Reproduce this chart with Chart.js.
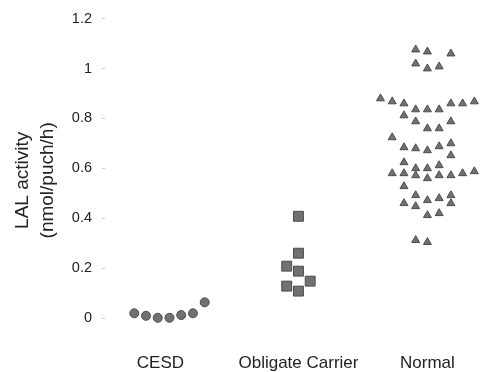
<!DOCTYPE html>
<html>
<head>
<meta charset="utf-8">
<script src="https://cdn.jsdelivr.net/npm/chart.js@4/dist/chart.umd.min.js"></script>
<style>
  html, body { margin: 0; padding: 0; background: #fff; }
  #wrap { width: 487px; height: 372px; position: relative; }
</style>
</head>
<body>
<div id="wrap"><canvas id="c"></canvas></div>
<script>
// group names and where their labels sit on the x axis
const groups = ['CESD', 'Obligate Carrier', 'Normal'];
const groupCenter = [0.5, 1.5, 2.5];
const labelPos = [0.43, 1.5, 2.5];

// y tick values
const yTicks = [0, 0.2, 0.4, 0.6, 0.8, 1, 1.2];

// values, plus the column (jitter slot) each dot sits in
const cesdValues = [0.019, 0.009, 0.001, 0.001, 0.012, 0.019, 0.063];
const cesdSlots  = [-3, -2, -1, 0, 1, 2, 3];

const carrierValues = [0.408, 0.26, 0.208, 0.188, 0.148, 0.128, 0.108];
const carrierSlots  = [0, 0, -1, 0, 1, -1, 0];

const normalValues = [
  1.076, 1.068, 1.06, 1.02, 1.0, 1.008,
  0.88, 0.868, 0.86, 0.836, 0.836, 0.836, 0.86, 0.86, 0.868,
  0.812, 0.788, 0.788, 0.76, 0.76, 0.724,
  0.684, 0.68, 0.672, 0.688, 0.70, 0.652,
  0.624, 0.6, 0.6, 0.612,
  0.58, 0.58, 0.572, 0.56, 0.572, 0.572, 0.58, 0.588,
  0.528, 0.492, 0.472, 0.48, 0.492, 0.46, 0.448, 0.46,
  0.412, 0.42, 0.312, 0.304
];
const normalSlots = [
  -1, 0, 2, -1, 0, 1,
  -4, -3, -2, -1, 0, 1, 2, 3, 4,
  -2, -1, 2, 0, 1, -3,
  -2, -1, 0, 1, 2, 2,
  -2, -1, 0, 1,
  -3, -2, -1, 0, 1, 2, 3, 4,
  -2, -1, 0, 1, 2, -2, -1, 2,
  0, 1, -1, 0
];

const slotWidth = 0.091;

function toPoints(values, slots, g) {
  return values.map((v, i) => ({ x: groupCenter[g] + slots[i] * slotWidth, y: v }));
}

const fill = '#717171';
const edge = '#4d4d4d';

new Chart(document.getElementById('c'), {
  type: 'scatter',
  data: {
    datasets: [
      { label: groups[0], data: toPoints(cesdValues, cesdSlots, 0), pointStyle: 'circle', pointRadius: 4.5 },
      { label: groups[1], data: toPoints(carrierValues, carrierSlots, 1), pointStyle: 'rect', pointRadius: 7 },
      { label: groups[2], data: toPoints(normalValues, normalSlots, 2), pointStyle: 'triangle', pointRadius: 4.6 }
    ].map(d => Object.assign(d, {
      backgroundColor: fill,
      borderColor: edge,
      borderWidth: 1,
      pointHoverRadius: d.pointRadius,
      clip: false
    }))
  },
  options: {
    responsive: true,
    maintainAspectRatio: false,
    animation: false,
    layout: { padding: { top: 18, right: 0, bottom: 0, left: 0 } },
    plugins: { legend: { display: false }, tooltip: { enabled: false } },
    scales: {
      x: {
        type: 'linear',
        min: 0,
        max: 2.9,
        grid: { display: false },
        border: { display: false },
        afterBuildTicks: s => { s.ticks = labelPos.map(v => ({ value: v })); },
        afterFit: s => { s.height = 30; },
        ticks: {
          autoSkip: false,
          maxRotation: 0,
          padding: 3,
          color: '#222',
          font: { family: 'Liberation Sans, Arial, sans-serif', size: 17 },
          callback: (v, i) => groups[i]
        }
      },
      y: {
        min: -0.096,
        max: 1.2,
        border: { display: false },
        grid: { drawOnChartArea: false, drawTicks: true, tickLength: 3, color: '#cfcfcf' },
        afterBuildTicks: s => { s.ticks = yTicks.map(v => ({ value: v })); },
        afterFit: s => { s.width = 105; },
        ticks: {
          padding: 10,
          color: '#222',
          font: { family: 'Liberation Sans, Arial, sans-serif', size: 14.5 },
          callback: v => String(v)
        },
        title: {
          display: true,
          text: ['LAL activity', '(nmol/puch/h)'],
          color: '#222',
          padding: { top: 11, bottom: 8 },
          font: { family: 'Liberation Sans, Arial, sans-serif', size: 19, lineHeight: 1.28 }
        }
      }
    }
  }
});
</script>
</body>
</html>
